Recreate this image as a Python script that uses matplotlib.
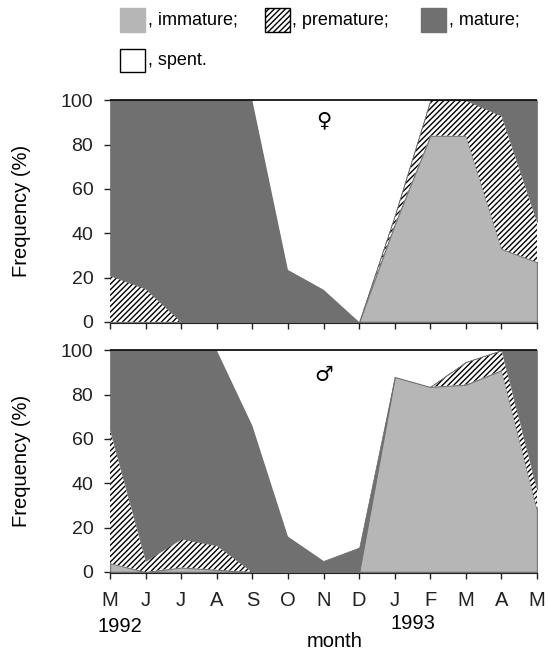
import matplotlib
matplotlib.use('Agg')
import matplotlib.pyplot as plt
import numpy as np
from matplotlib.patches import Rectangle

plt.rcParams['font.family'] = ['Liberation Sans', 'DejaVu Sans']
plt.rcParams['hatch.linewidth'] = 1.0

months = ['M', 'J', 'J', 'A', 'S', 'O', 'N', 'D', 'J', 'F', 'M', 'A', 'M']
years = ['1992', '1993']

# female (top panel), percentages per stage
f_immature = [0, 0, 0, 0, 0, 0, 0, 0, 44, 84, 84, 33, 27]
f_premature = [21, 15, 0, 0, 0, 0, 0, 0, 4, 16, 16, 60, 18]
f_mature = [79, 85, 100, 100, 100, 23.5, 14.6, 0, 0, 0, 0, 7, 55]
f_spent = [0, 0, 0, 0, 0, 76.5, 85.4, 100, 52, 0, 0, 0, 0]

# male (bottom panel)
m_immature = [4, 0, 2, 1, 0, 0, 0, 0, 88, 83.5, 84.5, 91, 28]
m_premature = [60, 5, 13, 11, 0, 0, 0, 0, 0, 0, 10.2, 9, 9]
m_mature = [36, 95, 85, 88, 66, 16, 5, 11, 0, 0, 0, 0, 63]
m_spent = [0, 0, 0, 0, 34, 84, 95, 89, 12, 16.5, 5.3, 0, 0]

c_imm = '#b6b6b6'
c_mat = '#707070'


def draw(ax, imm, pre, mat, spent, symbol, sym_y):
    x = np.arange(len(months))
    b0 = np.zeros(len(x))
    b1 = b0 + np.array(imm)
    b2 = b1 + np.array(pre)
    b3 = b2 + np.array(mat)
    b4 = b3 + np.array(spent)
    ax.fill_between(x, b0, b1, facecolor=c_imm, edgecolor='#777777', lw=1.0)
    ax.fill_between(x, b1, b2, facecolor='white', edgecolor='black', hatch='//////', lw=0)
    ax.fill_between(x, b2, b3, facecolor=c_mat, edgecolor=c_mat, lw=0.5)
    ax.fill_between(x, b3, b4, facecolor='white', edgecolor='none', lw=0)
    ax.plot(x, b4, color='black', lw=1.2)
    ax.set_xlim(0, 12)
    ax.set_ylim(-0.5, 101)
    ax.set_yticks([0, 20, 40, 60, 80, 100])
    ax.set_xticks(x)
    for s in ['top', 'right', 'left']:
        ax.spines[s].set_visible(False)
    ax.spines['bottom'].set_color('#222222')
    ax.tick_params(axis='both', direction='out', length=4, width=1, labelsize=14, colors='#222222')
    ax.tick_params(axis='y', pad=8)
    ax.set_ylabel('Frequency (%)', fontsize=14.5)
    ax.yaxis.set_label_coords(-0.185, 0.5)
    ax.text(6.0, sym_y, symbol, fontsize=15, ha='center', va='center', family='DejaVu Sans')


fig = plt.figure(figsize=(5.48, 6.52), dpi=100)
ax1 = fig.add_axes([0.2007, 0.5046, 0.7793, 0.3451])
ax2 = fig.add_axes([0.2007, 0.1212, 0.7793, 0.3451])

draw(ax1, f_immature, f_premature, f_mature, f_spent, '\u2640', 91)
draw(ax2, m_immature, m_premature, m_mature, m_spent, '\u2642', 89)
ax1.set_xticklabels([])
ax2.set_xticklabels(months, fontsize=14.5)
ax2.tick_params(axis='x', pad=9)
ax2.text(-0.35, -24.5, years[0], ha='left', va='center', fontsize=14.5, clip_on=False)
ax2.text(8.5, -23.5, years[1], ha='center', va='center', fontsize=14.5, clip_on=False)
ax2.text(6.3, -31.5, 'month', ha='center', va='center', fontsize=14.5, clip_on=False)

# legend drawn in figure coordinates
def swatch(x, y, face, hatch=None):
    r = Rectangle((x, y), 0.046, 0.036, transform=fig.transFigure, facecolor=face,
                  edgecolor='black' if hatch or face == 'white' else face, hatch=hatch, lw=1)
    fig.add_artist(r)

row1 = 0.951
row2 = 0.889
swatch(120 / 548, row1, c_imm)
fig.text(148 / 548, row1 + 0.018, ', immature;', fontsize=13, va='center')
swatch(265 / 548, row1, 'white', '//////')
fig.text(292 / 548, row1 + 0.018, ', premature;', fontsize=13, va='center')
swatch(421 / 548, row1, c_mat)
fig.text(449 / 548, row1 + 0.018, ', mature;', fontsize=13, va='center')
swatch(120 / 548, row2, 'white')
fig.text(148 / 548, row2 + 0.018, ', spent.', fontsize=13, va='center')

plt.savefig('out.png', dpi=100)
